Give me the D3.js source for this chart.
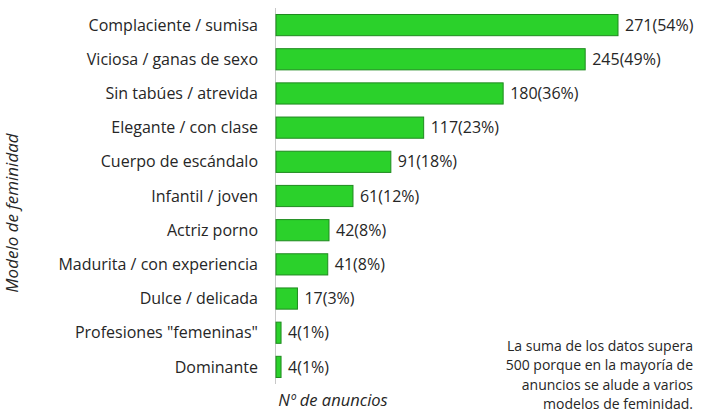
<!DOCTYPE html>
<html>
<head>
<meta charset="utf-8">
<script src="https://cdn.jsdelivr.net/npm/d3@7"></script>
<style>
body { margin: 0; background: #fff; }
text { font-family: "Open Sans", sans-serif; fill: #262626; }
</style>
</head>
<body>
<div id="chart"></div>
<script>
// categories, top to bottom
const categories = ['Complaciente / sumisa', 'Viciosa / ganas de sexo', 'Sin tabúes / atrevida',
  'Elegante / con clase', 'Cuerpo de escándalo', 'Infantil / joven', 'Actriz porno',
  'Madurita / con experiencia', 'Dulce / delicada', 'Profesiones "femeninas"', 'Dominante'];
const counts = [271, 245, 180, 117, 91, 61, 42, 41, 17, 4, 4];
const percents = [54, 49, 36, 23, 18, 12, 8, 8, 3, 1, 1];
const noteLines = ['La suma de los datos supera', '500 porque en la mayoría de',
  'anuncios se alude a varios', 'modelos de feminidad.'];

var width = 702, height = 413;
var svg = d3.select("#chart").append("svg")
  .attr("width", width).attr("height", height);

var x0 = 276;
var x = d3.scaleLinear().domain([0, 271]).range([x0, 618]);
var y = d3.scaleBand().domain(categories).range([8, 384]).paddingInner(0.38).paddingOuter(0.19);

// axis line
svg.append("line")
  .attr("x1", x0 - 0.5).attr("x2", x0 - 0.5)
  .attr("y1", 8).attr("y2", 384)
  .attr("stroke", "#c8c8c8").attr("stroke-width", 1);

var rows = categories.map((c, i) => ({cat: c, n: counts[i], p: percents[i]}));

svg.selectAll("rect.bar").data(rows).enter().append("rect")
  .attr("class", "bar")
  .attr("x", x(0))
  .attr("y", d => y(d.cat))
  .attr("width", d => x(d.n) - x(0))
  .attr("height", y.bandwidth())
  .attr("fill", "#2bd12b")
  .attr("stroke", "#1f8a1f")
  .attr("stroke-width", 1);

// category labels
svg.selectAll("text.cat").data(rows).enter().append("text")
  .attr("class", "cat")
  .attr("x", 258)
  .attr("y", d => y(d.cat) + y.bandwidth() / 2)
  .attr("dy", "0.35em")
  .attr("text-anchor", "end")
  .style("font-size", "16px")
  .text(d => d.cat);

// value labels
svg.selectAll("text.val").data(rows).enter().append("text")
  .attr("class", "val")
  .attr("x", d => x(d.n) + 7)
  .attr("y", d => y(d.cat) + y.bandwidth() / 2)
  .attr("dy", "0.35em")
  .style("font-size", "16px")
  .text(d => d.n + "(" + d.p + "%)");

// axis titles
svg.append("text")
  .attr("transform", "translate(18,213) rotate(-90)")
  .attr("text-anchor", "middle")
  .style("font-size", "17px").style("font-style", "italic")
  .text("Modelo de feminidad");

svg.append("text")
  .attr("x", 333).attr("y", 400)
  .attr("dy", "0.35em")
  .attr("text-anchor", "middle")
  .style("font-size", "16.5px").style("font-style", "italic")
  .text("Nº de anuncios");

// note
svg.selectAll("text.note").data(noteLines).enter().append("text")
  .attr("class", "note")
  .attr("x", 693)
  .attr("y", (d, i) => 346 + i * 19.3)
  .attr("dy", "0.35em")
  .attr("text-anchor", "end")
  .style("font-size", "14px")
  .text(d => d);
</script>
</body>
</html>
